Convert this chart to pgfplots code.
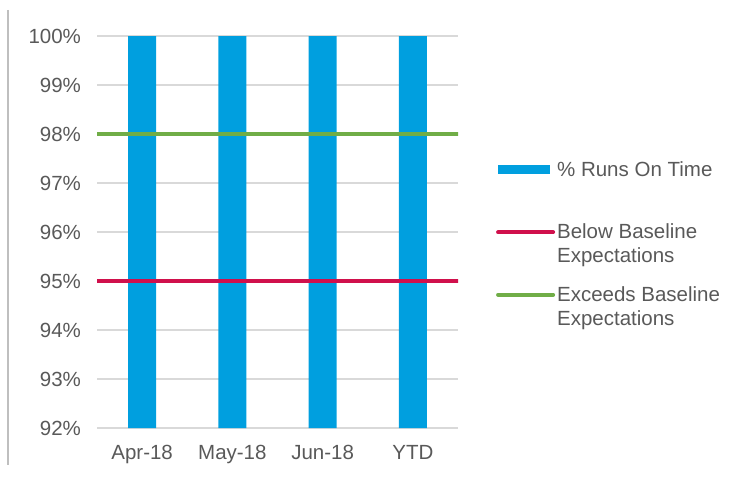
\documentclass[border=0pt]{standalone}
\usepackage{pgfplots}
\pgfplotsset{compat=1.18}
\usepackage{fontspec}
\setmainfont{Liberation Sans}
\definecolor{barblue}{HTML}{009FDF}
\definecolor{redline}{HTML}{D0104C}
\definecolor{greenline}{HTML}{70AD47}
\definecolor{gridgray}{HTML}{D9D9D9}
\definecolor{textgray}{HTML}{595959}
\begin{document}
\begin{tikzpicture}[x=1pt,y=1pt]
\useasboundingbox (0,0) rectangle (750,480);
\draw[color=gray!50, line width=1.2pt] (8,470) -- (8,15);
\begin{axis}[
  at={(97pt,52pt)}, anchor=south west,
  scale only axis, width=361pt, height=392pt,
  xmin=-0.5, xmax=3.5, ymin=92, ymax=100,
  xtick={0,1,2,3}, xticklabels={Apr-18,May-18,Jun-18,YTD},
  ytick={92,93,...,100},
  yticklabel={\pgfmathprintnumber{\tick}\%},
  /pgf/number format/assume math mode=true,
  axis line style={draw=none},
  major tick length=0pt,
  ymajorgrids, grid style={color=gridgray, line width=1.3pt},
  tick label style={font=\fontsize{20.5}{24}\selectfont, text=textgray},
  yticklabel style={xshift=-12.5pt},
  xticklabel style={yshift=-13.5pt},
  legend style={at={(1.105,0.685)}, anchor=north west, draw=none, fill=none,
    inner sep=0pt, row sep=18pt,
    font=\fontsize{20.5}{24}\selectfont, text=textgray,
    nodes={align=left, inner xsep=2pt}},
  legend cell align=left,
]
\addplot[ybar, bar width=28pt, fill=barblue, draw=none,
  legend image code/.code={\fill[barblue] (0pt,8pt) rectangle (52pt,17pt);}]
  coordinates {(0,100) (1,100) (2,100) (3,100)};
\addlegendentry{\% Runs On Time\\ \strut}
\addplot[redline, line width=4pt, line cap=round,
  legend image code/.code={\draw[redline, line width=4pt, line cap=round] (0pt,12pt) -- (55pt,12pt);}]
  coordinates {(-0.5,95) (3.5,95)};
\addlegendentry{Below Baseline\\Expectations}
\addplot[greenline, line width=4pt, line cap=round,
  legend image code/.code={\draw[greenline, line width=4pt, line cap=round] (0pt,12pt) -- (55pt,12pt);}]
  coordinates {(-0.5,98) (3.5,98)};
\addlegendentry{Exceeds Baseline\\Expectations}
\end{axis}
\end{tikzpicture}
\end{document}
